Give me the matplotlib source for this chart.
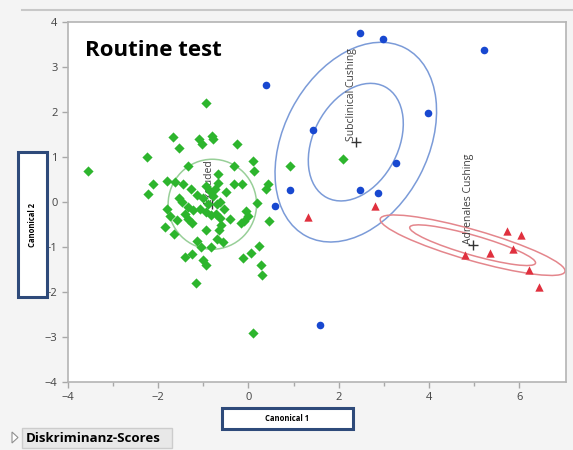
import numpy as np
import matplotlib.pyplot as plt
from matplotlib.patches import Ellipse, Rectangle, Polygon
from matplotlib.lines import Line2D

# canonical scores per group
green_x = [-3.56, -0.93, -1.68, -1.55, -1.09, -1.04, -0.81, -0.79, -0.26, -2.24,
           -1.33, 0.11, -0.31, 0.12, -2.12, -2.23, -1.80, -1.63, -1.44, -1.27,
           -0.67, -0.67, -0.31, -0.15, 0.44, 0.39, 0.93, 2.09, -1.55, -1.47,
           -1.00, -0.74, -0.78, -0.89, -0.63, 0.18, -1.81, -1.74, -1.41, -1.33,
           -1.26, -1.22, -1.07, -0.94, -0.83, -0.72, -0.63, -0.41, -0.05, 0.00,
           -0.17, -0.09, 0.46, -1.86, -1.64, -0.93, -0.65, -1.15, -1.05, -0.83,
           -0.70, -0.57, 0.24, -1.41, -1.25, -1.00, -0.95, -0.11, 0.05, 0.27,
           0.31, -1.17, 0.11, -1.59, -0.85, -0.55, -0.70, -0.95, -0.50, -1.15,
           -0.60, -1.35]
green_y = [0.68, 2.21, 1.45, 1.21, 1.39, 1.30, 1.47, 1.39, 1.28, 1.01,
           0.79, 0.92, 0.80, 0.70, 0.39, 0.18, 0.47, 0.45, 0.39, 0.28,
           0.62, 0.42, 0.41, 0.40, 0.41, 0.30, 0.81, 0.96, 0.10, 0.01,
           0.08, 0.30, 0.14, -0.05, 0.00, -0.02, -0.16, -0.30, -0.27, -0.38,
           -0.46, -0.18, -0.15, -0.22, -0.29, -0.27, -0.35, -0.38, -0.19, -0.30,
           -0.47, -0.43, -0.42, -0.55, -0.70, -0.63, -0.62, -0.86, -0.99, -1.00,
           -0.82, -0.89, -0.98, -1.23, -1.16, -1.29, -1.40, -1.25, -1.14, -1.41,
           -1.62, -1.79, -2.90, -0.40, 0.25, -0.15, -0.05, 0.35, 0.22, 0.15,
           -0.50, -0.10]

blue_x = [0.39, 2.47, 2.98, 5.22, 3.98, 1.43, 3.27, 0.92, 2.47, 2.87, 0.59, 1.59]
blue_y = [2.60, 3.76, 3.62, 3.38, 1.98, 1.60, 0.87, 0.27, 0.27, 0.20, -0.09, -2.73]

red_x = [1.33, 2.80, 5.73, 6.04, 5.87, 5.36, 4.80, 6.23, 6.44]
red_y = [-0.33, -0.09, -0.64, -0.74, -1.04, -1.13, -1.18, -1.51, -1.88]

# group means and ellipse shapes (semi axes, angle)
group_names = ['Excluded', 'Subclinical Cushing', 'Adrenales Cushing']
centers = [(-0.80, -0.05), (2.38, 1.33), (4.97, -0.96)]
ellipse_outer = [(0.98, 1.00, 0), (2.36, 1.60, 62.4), (2.13, 0.34, -16)]
ellipse_inner = [None, (1.39, 0.94, 62.4), (1.45, 0.22, -16)]
ellipse_colors = ['#98cf98', '#7b9bd8', '#e4868c']

plt.rcParams['font.family'] = ['Open Sans', 'DejaVu Sans']

fig = plt.figure(figsize=(5.73, 4.5), dpi=100, facecolor='#f4f4f4')
ax = fig.add_axes([68/573, 1-382/450, 498/573, 360/450])
ax.set_facecolor('white')

for i in range(3):
    a, b, ang = ellipse_outer[i]
    ax.add_patch(Ellipse(centers[i], 2*a, 2*b, angle=ang, fill=False,
                         ec=ellipse_colors[i], lw=1.1, zorder=2))
    if ellipse_inner[i] is not None:
        a, b, ang = ellipse_inner[i]
        ax.add_patch(Ellipse(centers[i], 2*a, 2*b, angle=ang, fill=False,
                             ec=ellipse_colors[i], lw=1.1, zorder=2))
    ax.plot(centers[i][0], centers[i][1], marker='+', color='#333333', ms=7, mew=1.0, zorder=3)
    ax.annotate(group_names[i], centers[i], xytext=(-3, 1), textcoords='offset points',
                rotation=90, ha='center', va='bottom', fontsize=7.5, color='#404040', zorder=3)

ax.scatter(green_x, green_y, s=27, marker='D', c='#2db52d', lw=0, zorder=4)
ax.scatter(blue_x, blue_y, s=30, marker='o', c='#1848d0', lw=0, zorder=4)
ax.scatter(red_x, red_y, s=36, marker='^', c='#e0303e', lw=0, zorder=4)

ax.set_xlim(-4, 7.04)
ax.set_ylim(-4, 4)
ax.set_xticks(np.arange(-4, 7, 2))
ax.set_xticks([-3, -1, 1, 3, 5], minor=True)
ax.set_yticks(np.arange(-4, 5, 1))
ax.tick_params(which='both', direction='out', color='#a8a8a8', labelcolor='#444444',
               labelsize=8, length=4, width=1)
ax.tick_params(which='minor', length=3)
for s in ax.spines.values():
    s.set_color('#b4b4b4')
    s.set_linewidth(1.2)

ax.text(0.035, 0.92, 'Routine test', transform=ax.transAxes, fontsize=16,
        fontweight='bold', va='center')

# outer report decorations
fig.add_artist(Line2D([22/573, 1], [1-10/450, 1-10/450], color='#c8c8c8', lw=1.5))

fig.add_artist(Rectangle((18/573, 1-297/450), 29/573, 145/450, fc='white',
                         ec='#2e4a7a', lw=2.2, transform=fig.transFigure))
fig.text(32.5/573, 1-224.5/450, 'Canonical 2', rotation=90, ha='center', va='center',
         fontsize=5.5, fontweight='bold')

fig.add_artist(Rectangle((222/573, 1-429/450), 131/573, 21/450, fc='white',
                         ec='#2e4a7a', lw=2.2, transform=fig.transFigure))
fig.text(287.5/573, 1-418.5/450, 'Canonical 1', ha='center', va='center',
         fontsize=5.5, fontweight='bold')

fig.add_artist(Rectangle((22/573, 1-448/450), 150/573, 20/450, fc='#e8e8e8',
                         ec='#cccccc', lw=1, transform=fig.transFigure))
fig.text(26/573, 1-438/450, 'Diskriminanz-Scores', ha='left', va='center',
         fontsize=9.5, fontweight='bold')
fig.add_artist(Polygon([[12/573, 1-432/450], [12/573, 1-443/450], [18/573, 1-437.5/450]],
                       closed=True, fc='white', ec='#909090', lw=0.8, transform=fig.transFigure))

plt.savefig('out.png', dpi=100, facecolor=fig.get_facecolor())
